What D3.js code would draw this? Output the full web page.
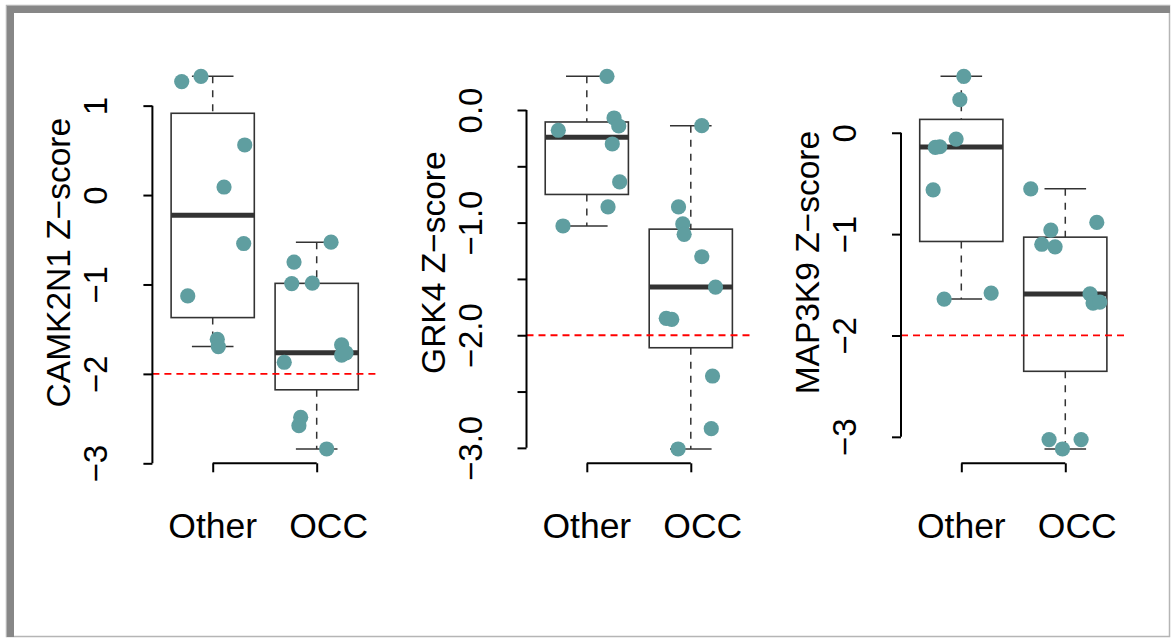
<!DOCTYPE html>
<html>
<head>
<meta charset="utf-8">
<script src="https://cdn.jsdelivr.net/npm/d3@7"></script>
<style>
  body { margin: 0; background: #fff; }
  svg { display: block; font-family: "Liberation Sans", Arial, Helvetica, sans-serif; }
</style>
</head>
<body>
<div id="chart"></div>
<script>
// groups on the x axis
var groups = ["Other", "OCC"];
var genes = ["CAMK2N1", "GRK4", "MAP3K9"];
var cutoff = -2;

// z-scores per gene and group, with the horizontal jitter (in group units)
var camk2n1Other  = [1.269, 1.328, 0.56, 0.09, -0.542, -1.128, -1.613, -1.695];
var camk2n1OtherJ = [-0.298, -0.113, 0.308, 0.109, 0.298, -0.24, 0.044, 0.054];
var camk2n1Occ    = [-0.527, -0.75, -0.99, -0.985, -1.675, -1.79, -1.765, -1.87, -2.486, -2.58, -2.84];
var camk2n1OccJ   = [0.138, -0.218, -0.24, -0.042, 0.24, 0.24, 0.282, -0.312, -0.154, -0.171, 0.096];

var grk4Other  = [0.299, -0.071, -0.142, -0.18, -0.302, -0.639, -0.861, -1.03];
var grk4OtherJ = [0.194, 0.262, 0.307, -0.274, 0.245, 0.316, 0.204, -0.229];
var grk4Occ    = [-0.139, -0.861, -1.012, -1.104, -1.303, -1.572, -1.85, -1.86, -2.362, -2.83, -3.01];
var grk4OccJ   = [0.106, -0.118, -0.077, -0.064, 0.106, 0.238, -0.236, -0.183, 0.209, 0.197, -0.122];

var map3k9Other  = [0.557, 0.326, -0.062, -0.138, -0.145, -0.563, -1.582, -1.641];
var map3k9OtherJ = [0.024, -0.014, -0.05, -0.207, -0.25, -0.271, 0.287, -0.165];
var map3k9Occ    = [-0.553, -0.885, -0.96, -1.1, -1.125, -1.59, -1.68, -1.67, -3.027, -3.027, -3.12];
var map3k9OccJ   = [-0.332, 0.303, -0.139, -0.226, -0.098, 0.238, 0.267, 0.332, -0.156, 0.152, -0.027];

// y tick values (GRK4 labels only the whole numbers)
var camk2n1Ticks = [-3, -2, -1, 0, 1];
var grk4Ticks    = [-3, -2.5, -2, -1.5, -1, -0.5, 0];
var map3k9Ticks  = [-3, -2, -1, 0];

var panels = [
  { gene: genes[0], vals: [camk2n1Other, camk2n1Occ], jit: [camk2n1OtherJ, camk2n1OccJ], ticks: camk2n1Ticks, fmt: d3.format("d") },
  { gene: genes[1], vals: [grk4Other, grk4Occ], jit: [grk4OtherJ, grk4OccJ], ticks: grk4Ticks, fmt: d => Number.isInteger(d) ? d3.format(".1f")(d) : "" },
  { gene: genes[2], vals: [map3k9Other, map3k9Occ], jit: [map3k9OtherJ, map3k9OccJ], ticks: map3k9Ticks, fmt: d3.format("d") }
];

var width = 1172, height = 638;
var plotTop = 61.4, plotBottom = 463.9;
var plotLefts = [152.4, 526.5, 901];
var plotWidth = 224.6;
var dotColor = "#5f9ea0";
var boxColor = "#333";

var svg = d3.select("#chart").append("svg")
  .attr("width", width)
  .attr("height", height);

svg.append("rect").attr("width", width).attr("height", height).attr("fill", "#fff");

// frame round the picture
svg.append("rect")
  .attr("x", 6.5).attr("y", 5.5)
  .attr("width", 1163).attr("height", 631)
  .attr("fill", "none").attr("stroke", "#b5b5b5").attr("stroke-width", 1.5);
svg.append("rect").attr("x", 7).attr("y", 6).attr("width", 1163).attr("height", 7).attr("fill", "#878787");
svg.append("rect").attr("x", 7).attr("y", 6).attr("width", 7).attr("height", 631).attr("fill", "#878787");

// Tukey hinges like R's fivenum
function fivenum(arr) {
  var x = arr.slice().sort(d3.ascending);
  var n = x.length;
  var n4 = Math.floor((n + 3) / 2) / 2;
  var idx = [1, n4, (n + 1) / 2, n + 1 - n4, n];
  return idx.map(d => 0.5 * (x[Math.floor(d) - 1] + x[Math.ceil(d) - 1]));
}

panels.forEach(function(p, pi) {
  var left = plotLefts[pi];
  var g = svg.append("g");

  var xScale = d3.scaleLinear()
    .domain([0.42, 2.58])
    .range([left, left + plotWidth]);

  var all = p.vals[0].concat(p.vals[1]);
  var ext = d3.extent(all);
  var pad = (ext[1] - ext[0]) * 0.04;
  var yScale = d3.scaleLinear()
    .domain([ext[0] - pad, ext[1] + pad])
    .range([plotBottom, plotTop]);

  var boxW = 0.8;

  p.vals.forEach(function(vals, gi) {
    var cx = gi + 1;
    var s = fivenum(vals);
    var iqr = s[3] - s[1];
    var lo = d3.min(vals.filter(v => v >= s[1] - 1.5 * iqr));
    var hi = d3.max(vals.filter(v => v <= s[3] + 1.5 * iqr));

    // whiskers
    g.append("line")
      .attr("x1", xScale(cx)).attr("x2", xScale(cx))
      .attr("y1", yScale(hi)).attr("y2", yScale(s[3]))
      .attr("stroke", boxColor).attr("stroke-width", 1.5).attr("stroke-dasharray", "7,7");
    g.append("line")
      .attr("x1", xScale(cx)).attr("x2", xScale(cx))
      .attr("y1", yScale(s[1])).attr("y2", yScale(lo))
      .attr("stroke", boxColor).attr("stroke-width", 1.5).attr("stroke-dasharray", "7,7");
    [lo, hi].forEach(function(v) {
      g.append("line")
        .attr("x1", xScale(cx - boxW / 4)).attr("x2", xScale(cx + boxW / 4))
        .attr("y1", yScale(v)).attr("y2", yScale(v))
        .attr("stroke", boxColor).attr("stroke-width", 1.5);
    });

    // box
    g.append("rect")
      .attr("x", xScale(cx - boxW / 2))
      .attr("y", yScale(s[3]))
      .attr("width", xScale(cx + boxW / 2) - xScale(cx - boxW / 2))
      .attr("height", yScale(s[1]) - yScale(s[3]))
      .attr("fill", "#fff").attr("stroke", boxColor).attr("stroke-width", 1.6);

    // median
    g.append("line")
      .attr("x1", xScale(cx - boxW / 2)).attr("x2", xScale(cx + boxW / 2))
      .attr("y1", yScale(s[2])).attr("y2", yScale(s[2]))
      .attr("stroke", boxColor).attr("stroke-width", 5);
  });

  // cutoff line
  g.append("line")
    .attr("x1", xScale(0.42)).attr("x2", xScale(2.58))
    .attr("y1", yScale(cutoff)).attr("y2", yScale(cutoff))
    .attr("stroke", "#ff0000").attr("stroke-width", 1.8).attr("stroke-dasharray", "7,5");

  // points
  p.vals.forEach(function(vals, gi) {
    g.selectAll(null)
      .data(vals.map((v, i) => ({ v: v, j: p.jit[gi][i] })))
      .enter().append("circle")
      .attr("cx", d => xScale(gi + 1 + d.j))
      .attr("cy", d => yScale(d.v))
      .attr("r", 7.6)
      .attr("fill", dotColor);
  });

  // y axis
  var yAxis = g.append("g")
    .attr("transform", `translate(${left},0)`)
    .call(d3.axisLeft(yScale).tickValues(p.ticks).tickSize(9).tickFormat(p.fmt));
  yAxis.select(".domain")
    .attr("d", `M0,${yScale(d3.min(p.ticks))}V${yScale(d3.max(p.ticks))}`);
  yAxis.selectAll("line, .domain").attr("stroke", "#000").attr("stroke-width", 2);
  yAxis.selectAll("text")
    .attr("x", 0).attr("y", -45).attr("dy", 0)
    .attr("transform", "rotate(-90)")
    .attr("text-anchor", "middle")
    .style("font-size", "33px")
    .style("font-family", "Liberation Sans, Arial, sans-serif")
    .attr("fill", "#000");

  // x axis
  var xAxis = g.append("g")
    .attr("transform", `translate(0,${plotBottom - 0.6})`)
    .call(d3.axisBottom(xScale).tickValues([1, 2]).tickSize(9).tickFormat(""));
  xAxis.select(".domain").attr("d", `M${xScale(1)},0H${xScale(2)}`);
  xAxis.selectAll("line, .domain").attr("stroke", "#000").attr("stroke-width", 2);

  groups.forEach(function(name, gi) {
    g.append("text")
      .attr("x", xScale(gi + 1) + (gi === 1 ? 12 : 0))
      .attr("y", 537.5)
      .attr("text-anchor", "middle")
      .style("font-size", "35.5px")
      .text(name);
  });

  // y title
  g.append("text")
    .attr("transform", `translate(${left - 82},${(plotTop + plotBottom) / 2}) rotate(-90)`)
    .attr("text-anchor", "middle")
    .style("font-size", "33.5px")
    .text(p.gene + " Z\u2212score");
});
</script>
</body>
</html>
